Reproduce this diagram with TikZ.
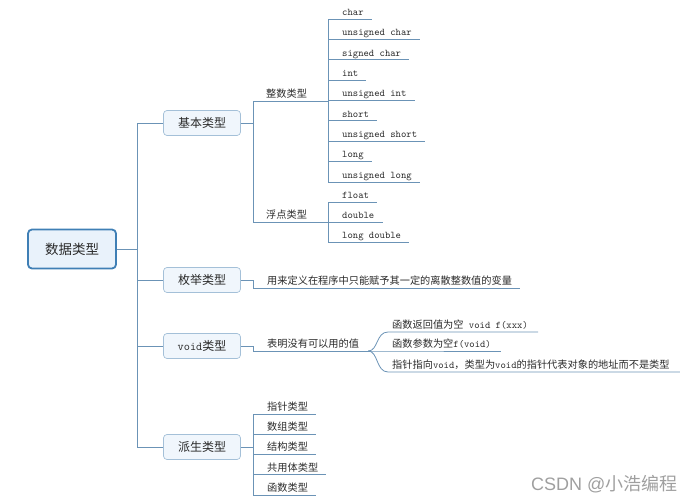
\documentclass[tikz,border=0pt]{standalone}
\usepackage{fontspec}
\newfontfamily\cjk{Noto Sans CJK SC}
\newfontfamily\wmfont{Liberation Sans}
\definecolor{lineC}{HTML}{6B93B6}
\definecolor{rootB}{HTML}{3F7FB5}
\definecolor{rootF}{HTML}{E9F2FB}
\definecolor{catB}{HTML}{A4C0D8}
\definecolor{catF}{HTML}{F0F6FC}
\definecolor{txt}{HTML}{2A2A2A}
\begin{document}
\begin{tikzpicture}[x=1pt,y=-1pt,
  conn/.style={draw=lineC, line width=0.8pt},
  rootbox/.style={draw=rootB, fill=rootF, line width=1.8pt, rounded corners=4pt,
    minimum width=88pt, minimum height=39pt, inner sep=0pt,
    font=\fontsize{13.5}{15}\selectfont\cjk, text=txt},
  catbox/.style={draw=catB, fill=catF, line width=0.7pt, rounded corners=3.5pt,
    minimum width=77pt, minimum height=25pt, inner sep=0pt,
    font=\fontsize{12}{14}\selectfont\ttfamily, text=txt},
  leafbase/.style={anchor=south west, inner xsep=0pt, inner ysep=2.5pt,
    text height=7.5pt, text depth=1pt,
    font=\fontsize{10.2}{12}\selectfont\ttfamily, text=txt},
  leaf/.style={leafbase, execute at begin node=\hspace*{14pt}, execute at end node=\hspace*{8pt}},
  vleaf/.style={leafbase, execute at begin node=\hspace*{4pt}, execute at end node=\hspace*{10pt}},
  midleaf/.style={leafbase, execute at begin node=\hspace*{13pt}},
]
\useasboundingbox (0,0) rectangle (698,503);

% root and categories
\node[rootbox] (root) at (72,249) {数据类型};
\coordinate (trunk) at (137,249);
\node[catbox] (jiben) at (202,123) {{\cjk 基本类型}};
\node[catbox] (meiju) at (202,280) {{\cjk 枚举类型}};
\node[catbox] (vd) at (202,346) {void{\cjk 类型}};
\node[catbox] (pai) at (202,447) {{\cjk 派生类型}};

\draw[conn] (root.east) -- (trunk);
\foreach \n in {jiben,meiju,vd,pai} \draw[conn] (trunk) |- (\n.west);

% basic types
\coordinate (jb) at (253,123);
\draw[conn] (jiben.east) -- (jb);
\node[midleaf] (zs) at (253,101) {{\cjk 整数类型}};
\node[midleaf] (fd) at (253,222) {{\cjk 浮点类型}};
\coordinate (zj) at (328,101);
\coordinate (fj) at (328,222);
\draw[conn] (jb) |- (zs.south west) -- (zj);
\draw[conn] (jb) |- (fd.south west) -- (fj);

\foreach [count=\i from 0] \t in {char,unsigned char,signed char,int,unsigned int,short,unsigned short,long,unsigned long}{
  \node[leaf] (z\i) at (328,{19+20.375*\i}) {\t};
  \draw[conn] (zj) |- (z\i.south west) -- (z\i.south east);
}
\foreach [count=\i from 0] \t in {float,double,long double}{
  \node[leaf] (f\i) at (328,{202+20*\i}) {\t};
  \draw[conn] (fj) |- (f\i.south west) -- (f\i.south east);
}

% enum
\node[leaf] (m1) at (253,288) {{\cjk 用来定义在程序中只能赋予其一定的离散整数值的变量}};
\draw[conn] (meiju.east) -| (m1.south west) -- (m1.south east);

% void
\node[leafbase, execute at begin node=\hspace*{14pt}, execute at end node=\hspace*{9pt}] (v1) at (253,351) {{\cjk 表明没有可以用的值}};
\draw[conn] (vd.east) -| (v1.south west) -- (v1.south east);
\node[vleaf] (v2) at (388,332) {{\cjk 函数返回值为空} void f(xxx)};
\node[vleaf] (v3) at (388,351) {{\cjk 函数参数为空}f(void)};
\node[vleaf] (v4) at (388,372) {{\cjk 指针指向}void{\cjk ，类型为}void{\cjk 的指针代表对象的地址而不是类型}};
\foreach \n in {v2,v3,v4}
  \draw[conn] (v1.south east) .. controls +(10,0) and +(-12,0) .. (\n.south west) -- (\n.south east);

% derived
\coordinate (pj) at (253,447);
\draw[conn] (pai.east) -- (pj);
\foreach [count=\i from 0] \t in {指针类型,数组类型,结构类型,共用体类型,函数类型}{
  \node[leaf] (p\i) at (253,{414+20.25*\i}) {{\cjk \t}};
  \draw[conn] (pj) |- (p\i.south west) -- (p\i.south east);
}

% watermark
\node[anchor=base west, inner sep=0pt, font=\fontsize{18}{20}\selectfont\wmfont, text=gray!75] (wm) at (531,490) {CSDN @{\cjk 小浩编程}};
\end{tikzpicture}
\end{document}
